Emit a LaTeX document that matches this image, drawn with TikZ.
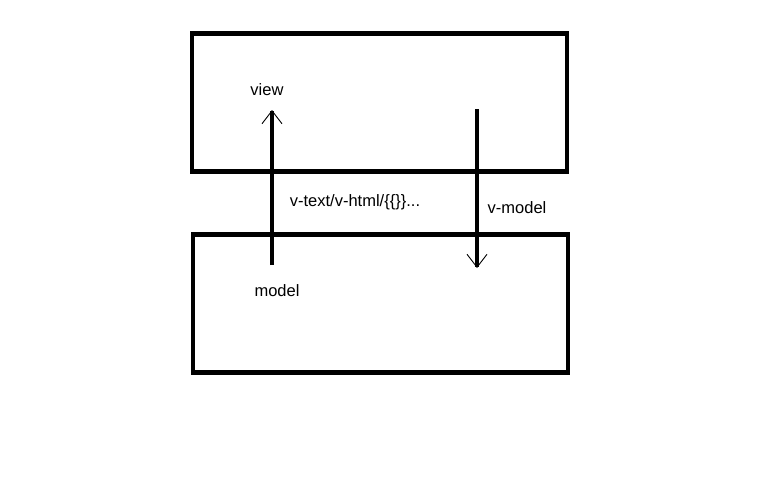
\documentclass[tikz,border=0pt]{standalone}
\usepackage{fontspec}
\setmainfont{Liberation Sans}
\usetikzlibrary{arrows.meta}
\begin{document}
\begin{tikzpicture}
    [ x=1pt, y=-1pt,
      caixa/.style={draw=black, line width=4.5pt, minimum width=375pt, minimum height=138pt, inner sep=0pt},
      rotulo/.style={font=\fontsize{16.5}{19}\selectfont, text=black, inner sep=0pt},
      seta/.style={line width=4.5pt, -{Straight Barb[line width=0.9pt, length=13pt, width=20pt]}} ]

    \useasboundingbox (0,0) rectangle (768,480);

    \node (view) at (379.5,102.5) [caixa] {};
    \node (model) at (380.5,303.5) [caixa] {};

    \coordinate (m1) at (272,265);
    \coordinate (v1) at (272,110);
    \coordinate (v2) at (477,109);
    \coordinate (m2) at (477,268);

    \draw[seta] (m1) -- (v1);
    \draw[seta] (v2) -- (m2);

    \node (tview) at (267,90) [rotulo] {view};
    \node (tmodel) at (277,291) [rotulo] {model};
    \node (tbind) at (355,202) [rotulo] {v-text/v-html/\{\{\}\}...};
    \node (tvmodel) at (517,208) [rotulo] {v-model};

\end{tikzpicture}
\end{document}
